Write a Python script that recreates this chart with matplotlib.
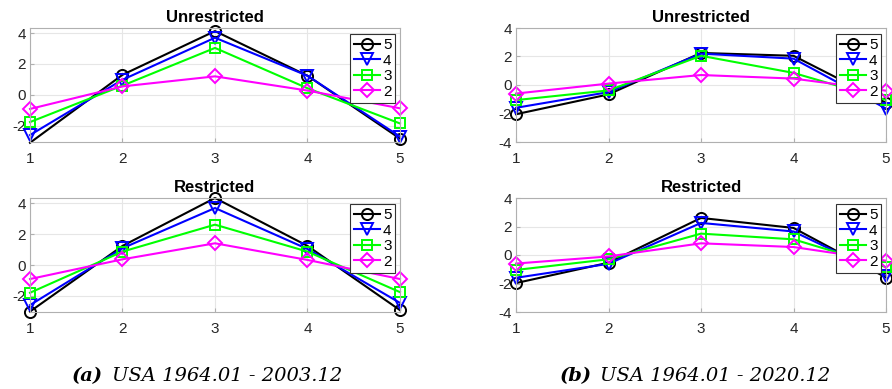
import matplotlib
matplotlib.use("Agg")
import matplotlib.pyplot as plt

plt.rcParams['axes.unicode_minus'] = False
plt.rcParams['font.family'] = ['Liberation Sans', 'DejaVu Sans']

x = [1, 2, 3, 4, 5]
series_labels = ["5", "4", "3", "2"]

# Panel (a): USA 1964.01 - 2003.12
a_unres = {
    "5": [-3.1, 1.3, 4.13, 1.24, -2.83],
    "4": [-2.6, 0.98, 3.7, 1.24, -2.7],
    "3": [-1.76, 0.6, 3.04, 0.43, -1.85],
    "2": [-0.91, 0.55, 1.2, 0.28, -0.87],
}
a_res = {
    "5": [-3.02, 1.24, 4.35, 1.24, -2.93],
    "4": [-2.6, 1.09, 3.7, 1.04, -2.46],
    "3": [-1.8, 0.87, 2.62, 0.87, -1.76],
    "2": [-0.91, 0.37, 1.41, 0.33, -0.91],
}
# Panel (b): USA 1964.01 - 2020.12
b_unres = {
    "5": [-2.05, -0.66, 2.25, 2.05, -1.25],
    "4": [-1.6, -0.5, 2.2, 1.85, -1.65],
    "3": [-1.06, -0.38, 2.05, 0.85, -1.05],
    "2": [-0.6, 0.1, 0.7, 0.45, -0.4],
}
b_res = {
    "5": [-1.97, -0.54, 2.6, 1.9, -1.58],
    "4": [-1.6, -0.62, 2.25, 1.65, -1.45],
    "3": [-1.05, -0.3, 1.5, 1.1, -0.85],
    "2": [-0.6, -0.1, 0.82, 0.56, -0.4],
}
titles = ["Unrestricted", "Restricted"]
captions = ["(a)", "(b)"]
caption_text = ["USA 1964.01 - 2003.12", "USA 1964.01 - 2020.12"]

colors = {"5": "#000000", "4": "#0000ff", "3": "#00ff00", "2": "#ff00ff"}
markers = {"5": "o", "4": "v", "3": "s", "2": "D"}
msizes = {"5": 8, "4": 8, "3": 6.5, "2": 7.5}

fig = plt.figure(figsize=(8.92, 3.89), dpi=100)
W, H = 892, 389

def add_ax(left_px, top_px, w_px, h_px):
    return fig.add_axes([left_px / W, 1 - (top_px + h_px) / H, w_px / W, h_px / H])

panels = [
    (add_ax(30, 28, 370, 114), a_unres, titles[0], (-3.05, 4.33), [-2, 0, 2, 4]),
    (add_ax(30, 198, 370, 114), a_res, titles[1], (-3.05, 4.35), [-2, 0, 2, 4]),
    (add_ax(516, 28, 370, 114), b_unres, titles[0], (-4, 4), [-4, -2, 0, 2, 4]),
    (add_ax(516, 198, 370, 114), b_res, titles[1], (-4, 4), [-4, -2, 0, 2, 4]),
]

for ax, data, title, ylim, yt in panels:
    for lab in series_labels:
        ys = data[lab]
        inside = [i for i, v in enumerate(ys) if ylim[0] <= v <= ylim[1]]
        ax.plot(x, ys, color=colors[lab], marker=markers[lab], markevery=inside,
                markersize=msizes[lab], markerfacecolor='none',
                markeredgewidth=1.4, linewidth=1.5, label=lab, clip_on=False)
    ax.set_xlim(1, 5)
    ax.set_ylim(*ylim)
    ax.set_xticks(x)
    ax.set_yticks(yt)
    ax.grid(True, color='#e6e6e6', linewidth=0.8)
    ax.set_axisbelow(True)
    for s in ax.spines.values():
        s.set_color('#b0b0b0')
        s.set_linewidth(0.8)
    ax.tick_params(direction='in', length=3, labelsize=11, colors='#b0b0b0',
                   labelcolor='#262626', pad=3)
    ax.tick_params(axis='x', pad=7)
    ax.set_title(title, fontsize=12, fontweight='bold', pad=4)
    leg = ax.legend(loc='upper right', bbox_to_anchor=(1.0, 0.985), fontsize=11,
                    handlelength=1.7, handletextpad=0.2, borderpad=0.25,
                    labelspacing=0.1, borderaxespad=0.3, fancybox=False,
                    framealpha=1, edgecolor='#333333')
    leg.get_frame().set_linewidth(0.8)

fig.canvas.draw()
renderer = fig.canvas.get_renderer()
for cx, cap, txt in [(207, captions[0], caption_text[0]), (695, captions[1], caption_text[1])]:
    y = 1 - 376 / H
    t1 = fig.text(0, y, cap, ha='left', va='center', fontsize=14,
                  family='DejaVu Serif', style='italic', fontweight='bold')
    t2 = fig.text(0, y, txt, ha='left', va='center', fontsize=14,
                  family='DejaVu Serif', style='italic')
    w1 = t1.get_window_extent(renderer).width
    w2 = t2.get_window_extent(renderer).width
    gap = 9
    total = w1 + gap + w2
    x0 = cx - total / 2
    t1.set_x(x0 / W)
    t2.set_x((x0 + w1 + gap) / W)

fig.savefig("out.png", dpi=100)
